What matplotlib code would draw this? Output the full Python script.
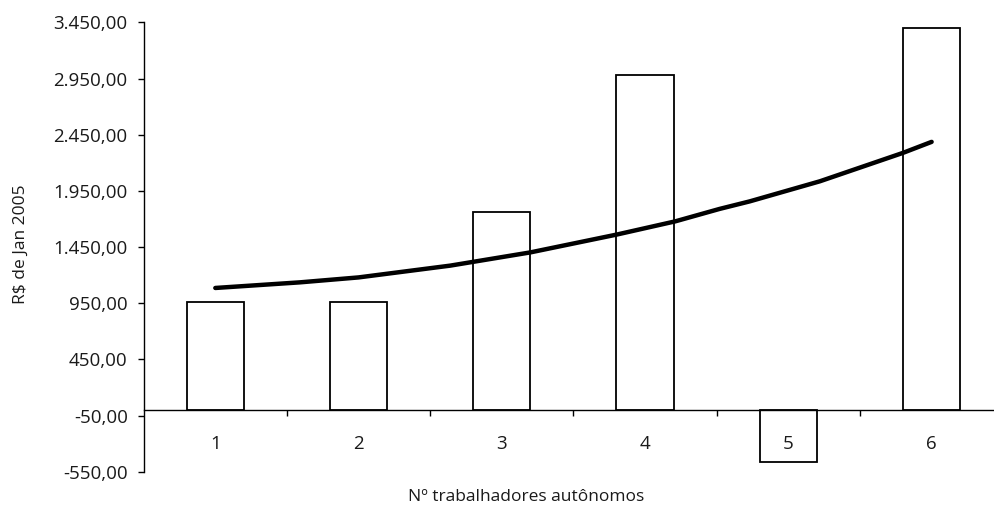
import matplotlib.pyplot as plt
from matplotlib.ticker import FixedLocator, FuncFormatter

plt.rcParams['font.family'] = ['Open Sans', 'DejaVu Sans']

# rendimento por número de trabalhadores autônomos
categorias = [1, 2, 3, 4, 5, 6]
valores = [965, 965, 1765, 2980, -465, 3400]

# linha de tendência (pontos lidos ao longo da curva)
tend_x = [1.0, 1.59, 2.0, 2.64, 3.2, 3.8, 4.21, 4.52, 4.73, 5.22, 5.8, 6.0]
tend_y = [1086, 1136, 1180, 1285, 1403, 1561, 1679, 1790, 1857, 2036, 2289, 2387]

y_ticks = [-550, -50, 450, 950, 1450, 1950, 2450, 2950, 3450]


def fmt_br(v, pos=None):
    s = '{:,.2f}'.format(v)
    return s.replace(',', 'X').replace('.', ',').replace('X', '.')


fig = plt.figure(figsize=(9.95, 5.09), dpi=100)
ax = fig.add_axes([0.1444, 0.0733, 0.8639, 0.8825])
ax.set_axisbelow(False)

ax.bar(categorias, valores, width=0.4, color='white', edgecolor='black',
       linewidth=1.3, zorder=2)
ax.plot(tend_x, tend_y, color='black', linewidth=3.2, solid_capstyle='round',
        zorder=3)

ax.set_xlim(0.5, 6.5)
ax.set_ylim(-550, 3450)

ax.spines['top'].set_visible(False)
ax.spines['right'].set_visible(False)
ax.spines['bottom'].set_position(('data', 0))
ax.spines['bottom'].set_linewidth(1.0)
ax.spines['left'].set_linewidth(1.0)

ax.yaxis.set_major_locator(FixedLocator(y_ticks))
ax.yaxis.set_major_formatter(FuncFormatter(fmt_br))
ax.tick_params(axis='y', direction='out', length=4.5, width=1.0, pad=7,
               labelsize=13.5, labelcolor='#1a1a1a')

ax.set_xticks(categorias)
ax.set_xticklabels([str(c) for c in categorias])
ax.set_xticks([1.5, 2.5, 3.5, 4.5, 5.5], minor=True)
ax.tick_params(axis='x', which='major', length=0, pad=18, labelsize=13.5,
               labelcolor='#1a1a1a')
ax.tick_params(axis='x', which='minor', direction='out', length=4, width=1.0)

ax.set_ylabel('R$ de Jan 2005', fontsize=12.5, color='#1a1a1a')
ax.yaxis.set_label_coords(-0.134, 0.5056)
ax.set_xlabel('Nº trabalhadores autônomos', fontsize=12.5, color='#1a1a1a')
ax.xaxis.set_label_coords((526 - 143.7) / 859.6, -0.039)

fig.savefig('out.png', dpi=100)
